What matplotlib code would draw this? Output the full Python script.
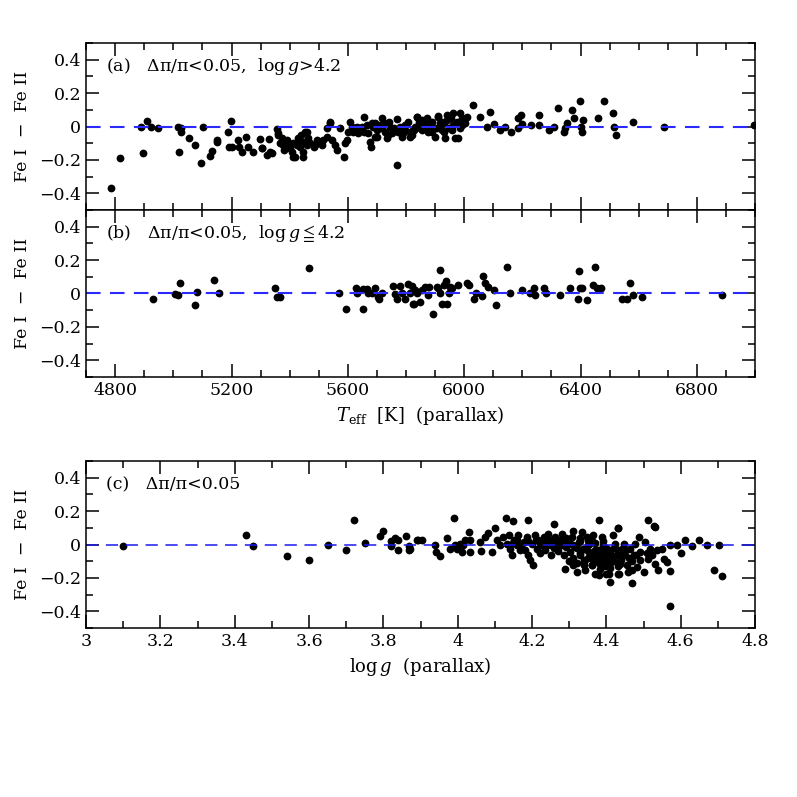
import numpy as np
import matplotlib
matplotlib.use("Agg")
import matplotlib.pyplot as plt
from matplotlib.ticker import MultipleLocator

plt.rcParams['font.family'] = ['DejaVu Serif', 'DejaVu Sans']
plt.rcParams['mathtext.fontset'] = 'dejavuserif'

# panel (a): Teff vs FeI-FeII, logg > 4.2
teff_a = [4785, 4817, 4888, 4909, 4922, 4946, 4895, 5015, 5025, 5027, 5020, 5054, 5075, 5094,
          5101, 5126, 5132, 5149, 5150, 5189, 5197, 5193, 5200, 5224, 5226, 5235, 5249, 5255,
          5275, 5298, 5305, 5328, 5333, 5340, 5355, 5360, 5367, 5378, 5390, 5395, 5407, 5413,
          5425, 5430, 5440, 5445, 5447, 5460, 5464, 5482, 5493, 5505, 5516, 5527, 5537, 5545,
          5556, 5561, 5573, 5588, 5596, 5607, 5613, 5619, 5630, 5642, 5655, 5665, 5670, 5679,
          5688, 5693, 5699, 5711, 5717, 5728, 5734, 5740, 5745, 5751, 5757, 5770, 5768, 5780,
          5785, 5797, 5808, 5820, 5825, 5839,
          5304, 5321, 5361, 5373, 5384, 5401, 5418, 5424, 5441, 5453, 5459, 5487, 5539, 5590,
          5602, 5625, 5636, 5648, 5676, 5682, 5694, 5716, 5739, 5774,
          5791, 5814, 5831, 5848, 5854, 5871, 5888, 5909, 5929, 5957, 5974, 5992,
          5814, 5826, 5837, 5843, 5848, 5854, 5866, 5871, 5877, 5883, 5900, 5906, 5911, 5917,
          5923, 5929, 5934, 5942, 5946, 5954, 5963, 5969, 5975, 5980, 5986, 5986, 5992, 6003,
          6009, 6029, 6055, 6080, 6087, 6104, 6123, 6140, 6160, 6186, 6186, 6195, 6198, 6229,
          6257, 6257, 6293, 6309, 6322, 6344, 6347, 6353, 6372, 6379, 6399, 6401, 6404, 6410,
          6461, 6482, 6511, 6515, 6522, 6579, 6687, 6997,
          5380, 5398, 5412, 5435, 5452, 5470, 5510, 5530, 5655, 5700, 5725, 5762, 5795,
          5860, 5890, 5895, 5925, 5940, 5960, 5998]
dfe_a = [-0.37, -0.19, 0.0, 0.035, 0.0, -0.01, -0.16, 0.0, -0.01, -0.03, -0.15, -0.066, -0.11, -0.22,
         -0.005, -0.175, -0.145, -0.08, -0.09, -0.035, 0.035, -0.125, -0.125, -0.08, -0.125, -0.155, -0.065, -0.12,
         -0.155, -0.075, -0.13, -0.075, -0.155, -0.16, -0.015, -0.04, -0.10, -0.11, -0.08, -0.125, -0.15, -0.18,
         -0.10, -0.07, -0.05, -0.15, -0.18, -0.03, -0.07, -0.12, -0.08, -0.09, -0.08, -0.01, 0.03, -0.08,
         -0.11, -0.14, -0.01, -0.18, -0.08, 0.025, -0.005, -0.035, 0.0, -0.02, 0.06, 0.01, -0.04, -0.12,
         -0.005, 0.02, -0.06, 0.01, 0.05, -0.03, -0.07, 0.03, 0.0, -0.04, -0.01, -0.23, 0.045, 0.0,
         -0.06, -0.02, 0.03, -0.05, -0.02, 0.06,
         -0.13, -0.17, -0.05, -0.07, -0.12, -0.13, -0.18, -0.11, -0.09, -0.03, -0.11, -0.11, 0.02, -0.10,
         -0.03, -0.01, -0.04, 0.0, -0.09, 0.02, -0.06, -0.01, -0.05, -0.03,
         -0.04, -0.03, 0.0, 0.03, -0.02, 0.05, -0.03, 0.065, -0.03, -0.02, 0.03, 0.01,
         -0.06, -0.02, 0.06, 0.03, -0.01, 0.04, 0.0, 0.02, -0.03, -0.01, -0.06, -0.01, 0.06, 0.02,
         -0.02, 0.02, -0.07, 0.07, -0.01, 0.05, 0.08, -0.07, 0.02, -0.07, 0.08, -0.01, 0.05, 0.02,
         0.06, 0.13, 0.06, -0.005, 0.085, 0.015, -0.02, 0.0, -0.03, -0.01, 0.05, 0.07, 0.017, 0.01,
         0.07, 0.01, -0.02, 0.0, 0.11, -0.03, -0.01, 0.02, 0.10, 0.05, 0.15, -0.005, -0.03, 0.04,
         0.05, 0.15, 0.08, 0.0, -0.05, 0.03, 0.0, 0.01,
         -0.14, -0.12, -0.10, -0.12, -0.09, -0.10, -0.11, -0.06, -0.03, -0.02, 0.02, -0.02, 0.01,
         0.02, 0.03, -0.01, 0.03, 0.04, 0.01, 0.04]

# panel (b): Teff vs FeI-FeII, logg <= 4.2
teff_b = [4931, 5004, 5015, 5023, 5075, 5083, 5141, 5158, 5350, 5356, 5365, 5465, 5570, 5594,
          5628, 5630, 5651, 5653, 5665, 5670, 5682, 5693, 5702, 5708, 5716, 5754, 5762, 5768,
          5780, 5785, 5797, 5808, 5814, 5825, 5831,
          5819, 5827, 5836, 5848, 5854, 5866, 5877, 5880, 5891, 5906, 5911, 5917, 5918, 5923,
          5929, 5938, 5940, 5946, 5952, 5957, 5980, 6011, 6015, 6034, 6041, 6061, 6063, 6072,
          6081, 6104, 6111, 6147, 6158, 6199, 6225, 6241, 6244, 6273, 6282, 6328, 6365, 6390,
          6393, 6399, 6405, 6422, 6443, 6450, 6456, 6470, 6542, 6559, 6571, 6580, 6611, 6885]
dfe_b = [-0.03, -0.006, -0.01, 0.06, -0.07, 0.01, 0.08, 0.0, 0.03, -0.02, -0.02, 0.155, 0.0, -0.09,
         0.035, 0.0, -0.09, 0.025, 0.025, 0.005, 0.0, 0.03, -0.02, -0.035, 0.005, 0.045, -0.005, -0.035,
         0.045, 0.005, -0.035, 0.055, 0.005, -0.06, 0.02,
         0.045, -0.06, 0.0, -0.05, 0.02, 0.04, -0.01, 0.04, -0.12, 0.04, 0.03, 0.0, 0.14, -0.06,
         0.05, 0.075, -0.065, 0.0, 0.04, 0.03, 0.05, 0.065, 0.05, -0.03, 0.0, -0.015, 0.105, 0.06,
         0.04, 0.02, -0.07, 0.16, 0.0, 0.02, 0.0, 0.03, -0.01, 0.03, 0.0, -0.01, 0.03, -0.03,
         0.135, 0.035, 0.03, -0.04, 0.05, 0.16, 0.03, 0.03, -0.03, -0.03, 0.06, -0.01, -0.02, -0.01]

# panel (c): logg vs FeI-FeII
logg_c = [3.10, 3.43, 3.45, 3.54, 3.60, 3.65, 3.70, 3.72, 3.75, 3.79, 3.80, 3.82, 3.82, 3.83,
          3.84, 3.84, 3.86, 3.87, 3.87, 3.89,
          3.872, 3.894, 3.903, 3.939, 3.942, 3.951, 3.971, 3.980, 3.989, 3.993, 3.998, 4.007, 4.011, 4.015,
          4.020, 4.029, 4.032, 4.033, 4.060, 4.062, 4.074, 4.081, 4.092, 4.101, 4.105, 4.114, 4.123, 4.130,
          4.132, 4.137, 4.141, 4.146, 4.150, 4.152, 4.159, 4.163, 4.168, 4.177, 4.186, 4.190, 4.190, 4.195,
          4.202, 4.199, 4.208, 4.213, 4.217, 4.224, 4.231, 4.235, 4.240, 4.244, 4.250, 4.253, 4.259, 4.262,
          4.267, 4.271, 4.276, 4.280, 4.285, 4.289, 4.292, 4.298, 4.302, 4.307, 4.311, 4.311, 4.316, 4.320,
          4.325, 4.329, 4.334, 4.338, 4.340, 4.343, 4.347, 4.352, 4.356, 4.361, 4.365, 4.370, 4.374, 4.379,
          4.381, 4.383, 4.388, 4.392, 4.397, 4.401, 4.406, 4.410, 4.410, 4.415, 4.419, 4.424, 4.428, 4.430,
          4.433, 4.437, 4.442, 4.446, 4.450, 4.455, 4.459, 4.464, 4.470, 4.473, 4.477, 4.482, 4.489, 4.491,
          4.500, 4.504, 4.511, 4.511, 4.518, 4.522, 4.529, 4.531, 4.536, 4.540, 4.549, 4.554, 4.563, 4.570,
          4.570, 4.572, 4.589, 4.600, 4.612, 4.630, 4.650, 4.670, 4.690, 4.702, 4.711,
          4.22, 4.25, 4.27, 4.30, 4.31, 4.33, 4.34, 4.36, 4.37, 4.38, 4.39, 4.40, 4.41, 4.42,
          4.43, 4.44, 4.35, 4.39, 4.41, 4.36, 4.32, 4.29, 4.26, 4.24, 4.21, 4.18, 4.16,
          4.379, 4.43, 4.40, 4.47, 4.53, 4.43,
          4.15, 4.17, 4.19, 4.23, 4.26, 4.28, 4.31, 4.33, 4.35, 4.37, 4.38, 4.40, 4.42, 4.44,
          4.30, 4.32, 4.34, 4.36, 4.38, 4.40, 4.42, 4.44, 4.46, 4.35, 4.37, 4.39, 4.41, 4.43,
          4.33, 4.35, 4.37, 4.39, 4.41, 4.45, 4.48, 4.28, 4.25, 4.22, 4.47, 4.49, 4.51]
dfe_c = [-0.01, 0.056, -0.01, -0.07, -0.09, 0.0, -0.03, 0.15, 0.01, 0.05, 0.08, 0.02, -0.01, 0.04,
         0.025, -0.03, 0.05, -0.03, -0.01, 0.025,
         -0.024, 0.03, 0.03, -0.004, -0.044, -0.07, 0.04, -0.024, 0.16, -0.004, -0.024, 0.006, -0.044, -0.004,
         0.026, 0.076, -0.044, 0.026, 0.016, -0.04, 0.046, 0.07, -0.044, 0.1, 0.026, -0.004, 0.046, 0.16,
         0.006, 0.056, -0.024, -0.06, 0.14, 0.026, -0.004, 0.056, -0.034, 0.016, 0.046, 0.15, -0.064, -0.094,
         -0.12, 0.006, 0.056, -0.024, 0.026, -0.004, 0.046, -0.034, 0.02, 0.066, -0.064, -0.004, 0.126, 0.046,
         -0.024, 0.006, 0.026, 0.066, -0.064, -0.144, -0.014, 0.016, -0.044, 0.046, 0.08, -0.124, -0.014, -0.164,
         0.016, -0.064, 0.076, -0.024, -0.104, -0.154, 0.046, 0.006, -0.064, -0.124, 0.056, -0.174, -0.034, 0.15,
         -0.084, -0.144, 0.046, -0.004, -0.064, -0.124, -0.174, -0.224, -0.034, -0.084, 0.056, 0.006, -0.064, 0.1,
         -0.174, -0.114, -0.024, 0.006, -0.064, -0.124, -0.164, -0.024, -0.23, -0.064, 0.006, -0.134, 0.046, -0.044,
         -0.164, 0.016, 0.15, -0.084, -0.024, -0.064, 0.11, -0.114, -0.034, -0.154, -0.024, -0.084, -0.104, -0.16,
         0.0, -0.37, -0.004, -0.05, 0.03, -0.01, 0.03, 0.0, -0.15, 0.0, -0.19,
         -0.05, 0.03, -0.04, 0.03, -0.08, 0.04, -0.09, 0.02, -0.10, -0.03, 0.02, -0.10, -0.05, -0.02,
         -0.13, -0.09, -0.04, -0.07, -0.14, -0.08, -0.02, 0.04, 0.02, 0.0, 0.03, -0.03, 0.03,
         -0.18, -0.175, -0.175, -0.155, 0.105, 0.10,
         0.01, -0.01, 0.02, 0.01, -0.02, 0.02, 0.0, -0.05, 0.0, -0.03, -0.06, -0.02, -0.07, -0.04,
         -0.10, -0.11, -0.12, -0.12, -0.11, -0.13, -0.10, -0.06, -0.08, 0.03, 0.01, -0.05, -0.09, -0.03,
         0.02, -0.08, -0.06, -0.13, -0.11, -0.03, -0.06, 0.0, 0.0, 0.01, -0.10, -0.09, -0.05]

teff_ticks = [4800, 5200, 5600, 6000, 6400, 6800]
logg_ticks = [3.0, 3.2, 3.4, 3.6, 3.8, 4.0, 4.2, 4.4, 4.6, 4.8]
logg_labels = ['3', '3.2', '3.4', '3.6', '3.8', '4', '4.2', '4.4', '4.6', '4.8']
y_ticks = [-0.4, -0.2, 0.0, 0.2, 0.4]
y_labels = ['\u22120.4', '\u22120.2', '0', '0.2', '0.4']

fig = plt.figure(figsize=(7.97, 7.97), dpi=100)
ax_a = fig.add_axes([0.108, 0.7365, 0.8394, 0.2095])
ax_b = fig.add_axes([0.108, 0.527, 0.8394, 0.2095])
ax_c = fig.add_axes([0.108, 0.212, 0.8394, 0.2095])

def style(ax):
    ax.set_ylim(-0.5, 0.5)
    ax.set_yticks(y_ticks)
    ax.set_yticklabels(y_labels)
    ax.yaxis.set_minor_locator(MultipleLocator(0.1))
    ax.tick_params(which='both', direction='in', top=True, right=True, width=1.1, labelsize=12.5)
    ax.tick_params(which='major', length=9.5)
    ax.tick_params(which='minor', length=5)
    for s in ax.spines.values():
        s.set_linewidth(1.1)
    ax.set_ylabel('Fe I  \u2212  Fe II', fontsize=12.5, labelpad=6)

for ax, x, y in [(ax_a, teff_a, dfe_a), (ax_b, teff_b, dfe_b)]:
    ax.plot(x, y, 'o', color='black', ms=5.6, mew=0)
    ax.axhline(0, color='#2a2aff', lw=1.5, dashes=(7, 4.5))
    ax.set_xlim(4700, 7000)
    ax.set_xticks(teff_ticks)
    ax.xaxis.set_minor_locator(MultipleLocator(100))
    style(ax)

ax_a.tick_params(labelbottom=False)
ax_b.set_xlabel(r'$T_{\rm eff}$  [K]  (parallax)', fontsize=13, labelpad=4)

ax_c.plot(logg_c, dfe_c, 'o', color='black', ms=5.6, mew=0)
ax_c.axhline(0, color='#1a1aee', lw=1.1, dashes=(8, 5))
ax_c.set_xlim(3.0, 4.8)
ax_c.set_xticks(logg_ticks)
ax_c.set_xticklabels(logg_labels)
ax_c.xaxis.set_minor_locator(MultipleLocator(0.1))
style(ax_c)
ax_c.set_xlabel(r'log$\,g$  (parallax)', fontsize=13, labelpad=4)

ax_a.text(0.03, 0.83, '(a)   \u0394\u03c0/\u03c0<0.05,  log$\\,g$>4.2', transform=ax_a.transAxes, fontsize=12.5)
ax_b.text(0.03, 0.83, '(b)   \u0394\u03c0/\u03c0<0.05,  log$\\,g\\leqq$4.2', transform=ax_b.transAxes, fontsize=12.5)
ax_c.text(0.03, 0.83, '(c)   \u0394\u03c0/\u03c0<0.05', transform=ax_c.transAxes, fontsize=12.5)

fig.savefig('out.png', dpi=100)
